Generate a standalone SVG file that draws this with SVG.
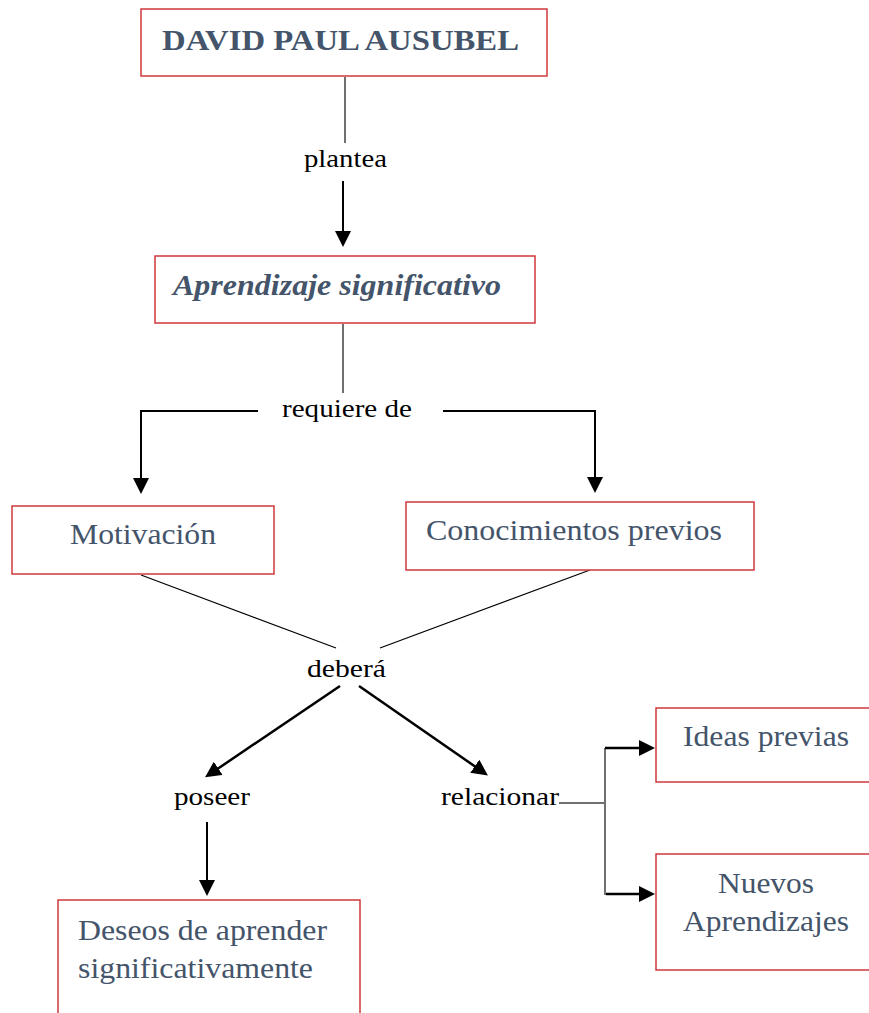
<svg xmlns="http://www.w3.org/2000/svg" width="869" height="1013" viewBox="0 0 869 1013">
<style>
.box{fill:#fff;stroke:#D0383C;stroke-width:1.5}
.nt{font-family:"Liberation Serif","Times New Roman",Times,serif;fill:#44546A;font-size:30px}
.lb{font-family:"Liberation Serif","Times New Roman",Times,serif;fill:#000;font-size:25px}
.gl{stroke:#404040;stroke-width:1.5;fill:none}
.thin{stroke:#000;stroke-width:1.2;fill:none}
.ar{stroke:#000;stroke-width:2;fill:none;marker-end:url(#ah)}
.arw{stroke:#000;stroke-width:2.5;fill:none;marker-end:url(#ah)}
</style>
<defs>
<marker id="ah" markerUnits="userSpaceOnUse" markerWidth="16" markerHeight="16" viewBox="0 0 16 16" refX="10" refY="8" orient="auto">
<path d="M0,0 L16,8 L0,16 z" fill="#000"/>
</marker>
</defs>
<rect width="869" height="1013" fill="#fff"/>
<g id="connectors">
<line class="gl" x1="345" y1="77" x2="345" y2="143"/>
<line class="ar" x1="343" y1="181" x2="343" y2="241"/>
<line class="gl" x1="343" y1="324" x2="343" y2="393"/>
<polyline class="ar" points="258,411 141,411 141,488"/>
<polyline class="ar" points="443,411 595,411 595,487"/>
<line class="thin" x1="141" y1="575" x2="336" y2="648"/>
<line class="thin" x1="590" y1="570" x2="380" y2="648"/>
<line class="arw" x1="340" y1="686" x2="210" y2="774"/>
<line class="arw" x1="359" y1="686" x2="483" y2="772"/>
<line class="ar" x1="207" y1="822" x2="207" y2="890"/>
<line class="gl" x1="559" y1="803" x2="604" y2="803"/>
<line class="gl" x1="605" y1="748" x2="605" y2="895"/>
<line class="arw" x1="605" y1="748" x2="649" y2="748"/>
<line class="arw" x1="606" y1="894" x2="649" y2="894"/>
</g>
<g id="n-ausubel">
<rect class="box" x="141" y="9" width="406" height="67"/>
<text class="nt" x="162" y="50" font-weight="bold" textLength="357" lengthAdjust="spacingAndGlyphs">DAVID PAUL AUSUBEL</text>
</g>
<g id="l-plantea"><text class="lb" x="304" y="167" textLength="83" lengthAdjust="spacingAndGlyphs">plantea</text></g>
<g id="n-aprendizaje">
<rect class="box" x="155" y="256" width="380" height="67"/>
<text class="nt" x="173" y="295" font-weight="bold" font-style="italic" textLength="328" lengthAdjust="spacingAndGlyphs">Aprendizaje significativo</text>
</g>
<g id="l-requiere"><text class="lb" x="282" y="417" textLength="130" lengthAdjust="spacingAndGlyphs">requiere de</text></g>
<g id="n-motivacion">
<rect class="box" x="12" y="506" width="262" height="68"/>
<text class="nt" x="70" y="544" textLength="146" lengthAdjust="spacingAndGlyphs">Motivación</text>
</g>
<g id="n-conocimientos">
<rect class="box" x="406" y="502" width="348" height="68"/>
<text class="nt" x="426" y="540" textLength="296" lengthAdjust="spacingAndGlyphs">Conocimientos previos</text>
</g>
<g id="l-debera"><text class="lb" x="307" y="677" textLength="79" lengthAdjust="spacingAndGlyphs">deberá</text></g>
<g id="l-poseer"><text class="lb" x="174" y="805" textLength="76" lengthAdjust="spacingAndGlyphs">poseer</text></g>
<g id="l-relacionar"><text class="lb" x="441" y="805" textLength="118" lengthAdjust="spacingAndGlyphs">relacionar</text></g>
<g id="n-ideas">
<rect class="box" x="656" y="708" width="240" height="74"/>
<text class="nt" x="683" y="746" textLength="166" lengthAdjust="spacingAndGlyphs">Ideas previas</text>
</g>
<g id="n-nuevos">
<rect class="box" x="656" y="854" width="240" height="116"/>
<text class="nt" x="718" y="893" textLength="96" lengthAdjust="spacingAndGlyphs">Nuevos</text>
<text class="nt" x="683" y="931" textLength="166" lengthAdjust="spacingAndGlyphs">Aprendizajes</text>
</g>
<g id="n-deseos">
<rect class="box" x="58" y="900" width="302" height="140"/>
<text class="nt" x="78" y="940" textLength="249" lengthAdjust="spacingAndGlyphs">Deseos de aprender</text>
<text class="nt" x="78" y="978" textLength="235" lengthAdjust="spacingAndGlyphs">significativamente</text>
</g>
</svg>
